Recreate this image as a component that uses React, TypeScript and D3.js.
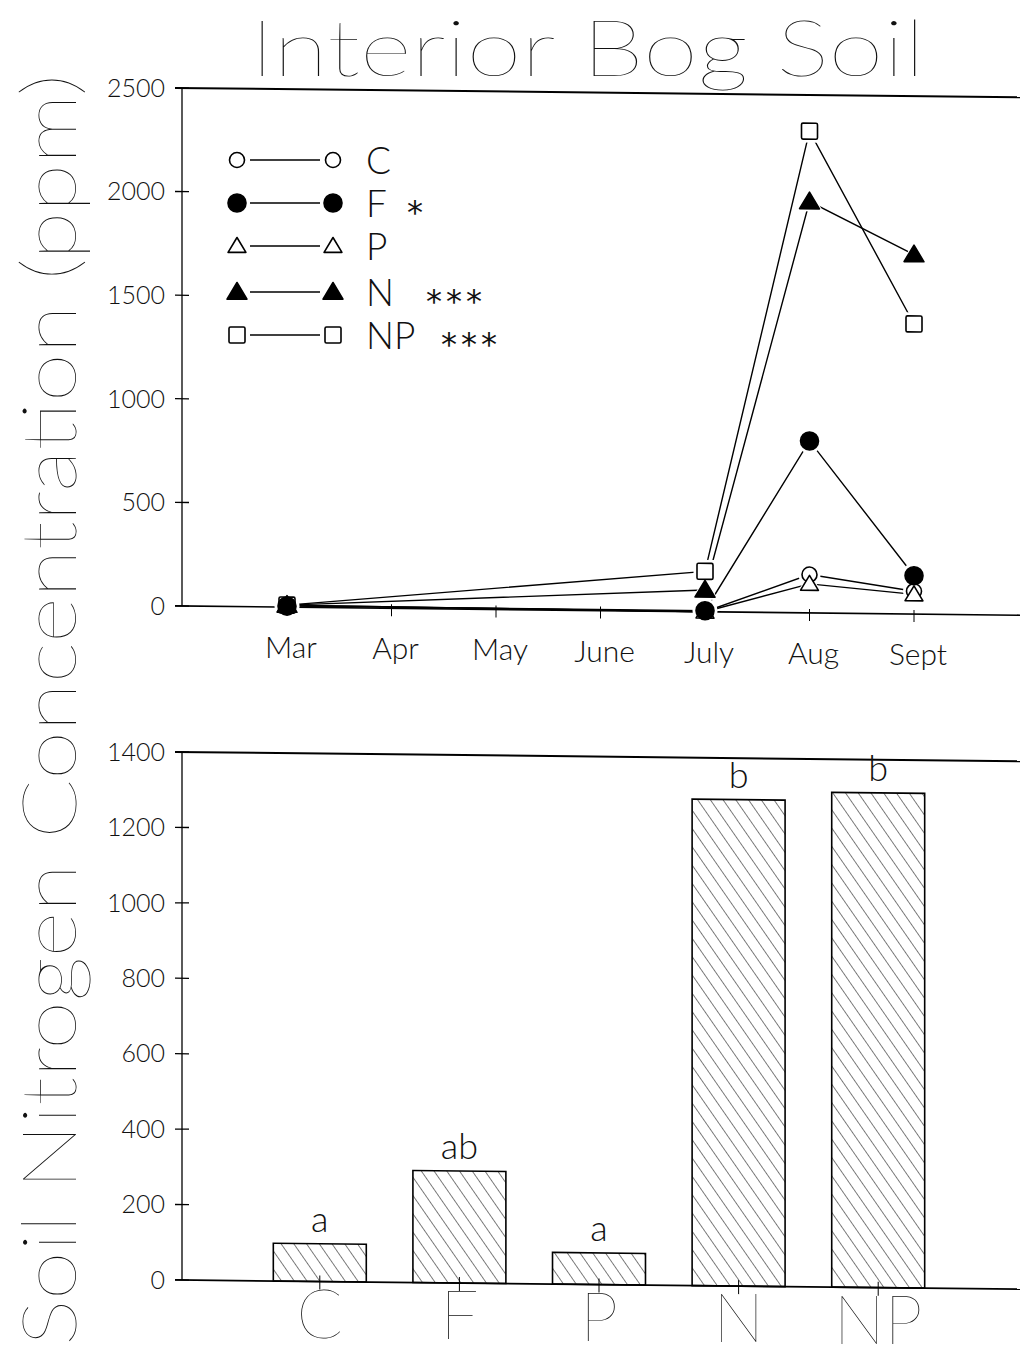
import React from "react";
import * as d3 from "d3";

const months = ["Mar", "Apr", "May", "June", "July", "Aug", "Sept"];
const sampleMonths = ["Mar", "July", "Aug", "Sept"];
const seriesNames = ["C", "F", "P", "N", "NP"];
const cValues = [10, 0, 185, 110];
const fValues = [5, 5, 830, 185];
const pValues = [10, 0, 140, 95];
const nValues = [10, 105, 1985, 1735];
const npValues = [10, 195, 2325, 1400];
const legendStars = ["", "*", "", "***", "***"];
const topTicks = [0, 500, 1000, 1500, 2000, 2500];

const barCategories = ["C", "F", "P", "N", "NP"];
const barValues = [100, 297, 84, 1290, 1312];
const barLetters = ["a", "ab", "a", "b", "b"];
const bottomTicks = [0, 200, 400, 600, 800, 1000, 1200, 1400];

const FONT = "Lato, 'Open Sans', 'DejaVu Sans', sans-serif";
const K = 0.011; // slight slope of the scanned page
const AX = 182;

type Marker = "openCircle" | "circle" | "openTri" | "tri" | "openSquare";
const markers: Marker[] = ["openCircle", "circle", "openTri", "tri", "openSquare"];
const seriesValues = [cValues, fValues, pValues, nValues, npValues];
// drawing order of the markers (filled circle drawn last, as in the plot)
const drawOrder = [0, 2, 3, 4, 1];

function MarkerShape({ type, x, y, halo }: { type: Marker; x: number; y: number; halo?: boolean }) {
  const filled = type === "circle" || type === "tri";
  const pad = halo ? 3.5 : 0;
  const fill = halo ? "#fff" : filled ? "#000" : "#fff";
  const stroke = halo ? "#fff" : "#000";
  const sw = halo ? 0 : 1.6;
  if (type === "openCircle" || type === "circle") {
    const r = (type === "circle" ? 9 : 7.5) + pad;
    return <circle cx={x} cy={y} r={r} fill={fill} stroke={stroke} strokeWidth={sw} />;
  }
  if (type === "openTri" || type === "tri") {
    const s = (type === "tri" ? 9.5 : 8.5) + pad;
    const p = `M${x},${y - s} L${x + s * 1.05},${y + s * 0.75} L${x - s * 1.05},${y + s * 0.75} Z`;
    return <path d={p} fill={fill} stroke={stroke} strokeWidth={sw} strokeLinejoin="round" />;
  }
  const h = 8 + pad;
  return <rect x={x - h} y={y - h} width={h * 2} height={h * 2} rx={1.5} fill={fill} stroke={stroke} strokeWidth={sw} />;
}

export default function App() {
  const xTop = d3.scalePoint<string>().domain(months).range([287, 914]);
  const yTop = d3.scaleLinear().domain([0, 2500]).range([606, 88]);
  const line = d3
    .line<[string, number]>()
    .x((d) => xTop(d[0])!)
    .y((d) => yTop(d[1]));

  const xBot = d3
    .scaleBand<string>()
    .domain(barCategories)
    .range([250, 948])
    .paddingInner(0.334)
    .paddingOuter(0.167);
  const yBot = d3.scaleLinear().domain([0, 1400]).range([1280, 752]);

  const shear = `matrix(1, ${K}, 0, 1, 0, ${-K * AX})`;
  const sy = (x: number, y: number) => y + K * (x - AX);

  const legendY = [160, 203, 246, 292, 335];

  return (
    <svg
      width={1020}
      height={1359}
      style={{ position: "absolute", left: 0, top: 0, background: "#fff" }}
      fontFamily={FONT}
    >
      <defs>
        <pattern id="hatch" patternUnits="userSpaceOnUse" width={10.5} height={10.5} patternTransform="rotate(-35)">
          <line x1={0} y1={-1} x2={0} y2={12} stroke="#111" strokeWidth={1.1} />
        </pattern>
      </defs>

      {/* Title */}
      <text x={250} y={76} fontSize={78} fontWeight={200} textLength={675} lengthAdjust="spacingAndGlyphs" fill="#111">
        Interior Bog Soil
      </text>

      {/* Y label */}
      <text
        transform="translate(76,1346) rotate(-90)"
        x={0}
        y={0}
        fontSize={76}
        fontWeight={200}
        textLength={1272}
        lengthAdjust="spacingAndGlyphs"
        fill="#111"
      >
        Soil Nitrogen Concentration (ppm)
      </text>

      {/* ===== Top panel ===== */}
      <g transform={shear}>
        <line x1={175} x2={1020} y1={yTop(2500)} y2={yTop(2500)} stroke="#000" strokeWidth={2} />
        <line x1={175} x2={1020} y1={yTop(0)} y2={yTop(0)} stroke="#000" strokeWidth={1.6} />
        <line x1={AX} x2={AX} y1={yTop(2500)} y2={yTop(0)} stroke="#000" strokeWidth={1.3} />
        {topTicks.map((t) => (
          <line key={t} x1={175} x2={189} y1={yTop(t)} y2={yTop(t)} stroke="#000" strokeWidth={1.3} />
        ))}
        {months.map((m) => (
          <line key={m} x1={xTop(m)} x2={xTop(m)} y1={yTop(0) - 4} y2={yTop(0) + 8} stroke="#000" strokeWidth={1} />
        ))}
        {seriesValues.map((vals, i) => (
          <path
            key={seriesNames[i]}
            d={line(sampleMonths.map((m, j) => [m, vals[j]] as [string, number]))!}
            fill="none"
            stroke="#000"
            strokeWidth={1.4}
          />
        ))}
        {drawOrder.map((i) =>
          sampleMonths.map((m, j) => (
            <MarkerShape key={`h${i}${j}`} type={markers[i]} x={xTop(m)!} y={yTop(seriesValues[i][j])} halo />
          ))
        )}
        {/* error bar at Mar */}
        <g stroke="#000" strokeWidth={1.5}>
          <line x1={xTop("Mar")} x2={xTop("Mar")} y1={yTop(40)} y2={yTop(0)} />
          <line x1={xTop("Mar")! - 7} x2={xTop("Mar")! + 7} y1={yTop(40)} y2={yTop(40)} />
        </g>
        {drawOrder.map((i) =>
          sampleMonths.map((m, j) => (
            <MarkerShape key={`m${i}${j}`} type={markers[i]} x={xTop(m)!} y={yTop(seriesValues[i][j])} />
          ))
        )}
      </g>
      {topTicks.map((t) => (
        <text key={t} x={165} y={yTop(t)} dy="0.35em" textAnchor="end" fontSize={25} fontWeight={300} fill="#111">
          {t}
        </text>
      ))}
      {months.map((m) => (
        <text
          key={m}
          x={xTop(m)! + 4}
          y={sy(xTop(m)!, 657)}
          textAnchor="middle"
          fontSize={30}
          fontWeight={300}
          fill="#111"
        >
          {m}
        </text>
      ))}

      {/* Legend */}
      {seriesNames.map((s, i) => (
        <g key={s}>
          <line x1={250} x2={320} y1={legendY[i]} y2={legendY[i]} stroke="#000" strokeWidth={1.6} />
          <MarkerShape type={markers[i]} x={237} y={legendY[i]} />
          <MarkerShape type={markers[i]} x={333} y={legendY[i]} />
          <text x={366} y={legendY[i] + 14} fontSize={37} fontWeight={300} fill="#111">
            {s}
          </text>
          {legendStars[i] && (
            <text
              x={i === 1 ? 407 : i === 3 ? 426 : 441}
              y={legendY[i] + 20}
              fontSize={32}
              fontFamily="'DejaVu Sans', sans-serif"
              letterSpacing={4}
              fill="#111"
            >
              {legendStars[i]}
            </text>
          )}
        </g>
      ))}

      {/* ===== Bottom panel ===== */}
      <g transform={shear}>
        <line x1={175} x2={1020} y1={yBot(1400)} y2={yBot(1400)} stroke="#000" strokeWidth={2} />
        <line x1={175} x2={1020} y1={yBot(0)} y2={yBot(0)} stroke="#000" strokeWidth={1.8} />
        <line x1={AX} x2={AX} y1={yBot(1400)} y2={yBot(0)} stroke="#000" strokeWidth={1.3} />
        {bottomTicks.map((t) => (
          <line key={t} x1={175} x2={189} y1={yBot(t)} y2={yBot(t)} stroke="#000" strokeWidth={1.3} />
        ))}
        {barCategories.map((c, i) => (
          <g key={c}>
            <rect
              x={xBot(c)}
              y={yBot(barValues[i])}
              width={xBot.bandwidth()}
              height={yBot(0) - yBot(barValues[i])}
              fill="url(#hatch)"
              stroke="#000"
              strokeWidth={1.6}
            />
            <line
              x1={xBot(c)! + xBot.bandwidth() / 2}
              x2={xBot(c)! + xBot.bandwidth() / 2}
              y1={yBot(0) - 6}
              y2={yBot(0) + 8}
              stroke="#000"
              strokeWidth={1}
            />
          </g>
        ))}
      </g>
      {bottomTicks.map((t) => (
        <text key={t} x={165} y={yBot(t)} dy="0.35em" textAnchor="end" fontSize={25} fontWeight={300} fill="#111">
          {t}
        </text>
      ))}
      {barCategories.map((c, i) => {
        const cx = xBot(c)! + xBot.bandwidth() / 2;
        return (
          <g key={c}>
            <text
              x={cx}
              y={sy(cx, yBot(barValues[i]) - 12)}
              textAnchor="middle"
              fontSize={36}
              fontWeight={300}
              fill="#111"
            >
              {barLetters[i]}
            </text>
            <text x={cx} y={sy(cx, 1336)} textAnchor="middle" fontSize={68} fontWeight={200} fill="#111">
              {c}
            </text>
          </g>
        );
      })}
    </svg>
  );
}
